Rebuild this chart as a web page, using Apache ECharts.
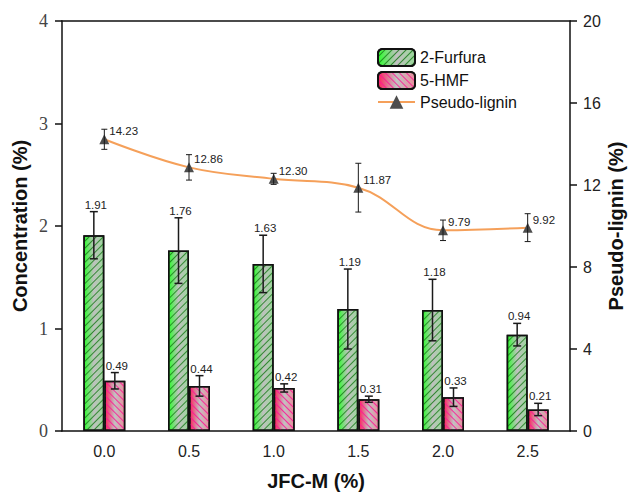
<!DOCTYPE html>
<html>
<head>
<meta charset="utf-8">
<script src="https://cdn.jsdelivr.net/npm/echarts@6/dist/echarts.min.js"></script>
<style>
html,body{margin:0;padding:0;background:#fff;}
#chart{width:629px;height:493px;}
</style>
</head>
<body>
<div id="chart"></div>
<script>
const categories = ['0.0', '0.5', '1.0', '1.5', '2.0', '2.5'];
const furfural = [1.91, 1.76, 1.63, 1.19, 1.18, 0.94];
const furfuralErr = [0.23, 0.32, 0.28, 0.39, 0.30, 0.11];
const hmf = [0.49, 0.44, 0.42, 0.31, 0.33, 0.21];
const hmfErr = [0.08, 0.10, 0.04, 0.03, 0.09, 0.06];
const lignin = [14.23, 12.86, 12.30, 11.87, 9.79, 9.92];
const ligninErr = [0.49, 0.62, 0.27, 1.19, 0.50, 0.68];
const leftTicks = [0, 1, 2, 3, 4];
const rightTicks = [0, 4, 8, 12, 16, 20];

const SANS = 'Liberation Sans, Arial, sans-serif';
const SERIF = 'Liberation Serif, Times New Roman, serif';
const BAR_W = 21;

const chart = echarts.init(document.getElementById('chart'), null, {renderer: 'svg'});

function errorRenderer(offset, capHalf, lineW, withLabel) {
  return function (params, api) {
    const i = api.value(0), v = api.value(1), e = api.value(2);
    const top = api.coord([i, v + e]);
    const bot = api.coord([i, v - e]);
    const x = top[0] + offset;
    const style = {stroke: '#1a1a1a', lineWidth: lineW};
    const children = [
      {type: 'line', shape: {x1: x, y1: top[1], x2: x, y2: bot[1]}, style: style},
      {type: 'line', shape: {x1: x - capHalf, y1: top[1], x2: x + capHalf, y2: top[1]}, style: style},
      {type: 'line', shape: {x1: x - capHalf, y1: bot[1], x2: x + capHalf, y2: bot[1]}, style: style}
    ];
    if (withLabel) {
      children.push({
        type: 'text',
        style: {
          text: v.toFixed(2), x: x + 2, y: top[1] - 1,
          align: 'center', verticalAlign: 'bottom',
          fontSize: 11.5, fontFamily: SANS, fill: '#222'
        }
      });
    }
    return {type: 'group', children: children};
  };
}

const greenFill = new echarts.graphic.LinearGradient(0, 0, 1, 0, [
  {offset: 0, color: '#2bff2b'},
  {offset: 0.5, color: '#c0c0c0'},
  {offset: 1, color: '#9ad89a'}
]);
const redFill = new echarts.graphic.LinearGradient(0, 0, 1, 0, [
  {offset: 0, color: '#ff1f5c'},
  {offset: 0.5, color: '#c2c2c2'},
  {offset: 1, color: '#ea8c9c'}
]);

const option = {
  backgroundColor: '#fff',
  animation: false,
  grid: {left: 62, right: 59, top: 21, bottom: 62, containLabel: false, outerBoundsMode: 'none'},
  legend: {
    orient: 'vertical', left: 372, top: 43,
    itemWidth: 37, itemHeight: 17, itemGap: 4,
    textStyle: {fontSize: 16, fontFamily: SANS, color: '#111'},
    data: ['2-Furfura', '5-HMF', 'Pseudo-lignin']
  },
  xAxis: [
    {
      type: 'category', data: categories, position: 'bottom',
      name: 'JFC-M (%)', nameLocation: 'middle', nameGap: 40, nameMoveOverlap: false,
      nameTextStyle: {fontSize: 20, fontWeight: 'bold', fontFamily: SANS, color: '#111'},
      axisLine: {lineStyle: {color: '#111', width: 1.5}},
      axisTick: {alignWithLabel: true, length: 7, lineStyle: {color: '#111', width: 1.5}},
      axisLabel: {fontSize: 16, fontFamily: SANS, color: '#222', margin: 12}
    },
    {
      type: 'category', data: categories, position: 'bottom',
      axisLine: {show: false},
      axisTick: {alignWithLabel: false, length: 4, lineStyle: {color: '#111', width: 1.5}},
      axisLabel: {show: false}
    },
    {
      type: 'category', data: categories, position: 'top',
      axisLine: {lineStyle: {color: '#111', width: 1.5}},
      axisTick: {show: false}, axisLabel: {show: false}
    }
  ],
  yAxis: [
    {
      type: 'value', min: leftTicks[0], max: leftTicks[leftTicks.length - 1], interval: 1,
      position: 'left',
      name: 'Concentration (%)', nameLocation: 'middle', nameGap: 32, nameRotate: 90, nameMoveOverlap: false,
      nameTextStyle: {fontSize: 20, fontWeight: 'bold', fontFamily: SANS, color: '#111'},
      axisLine: {show: true, lineStyle: {color: '#111', width: 1.5}},
      axisTick: {show: true, length: 7, lineStyle: {color: '#111', width: 1.5}},
      axisLabel: {fontSize: 18, fontFamily: SERIF, color: '#444', margin: 14},
      splitLine: {show: false}
    },
    {
      type: 'value', min: rightTicks[0], max: rightTicks[rightTicks.length - 1], interval: 4,
      position: 'right',
      name: 'Pseudo-lignin (%)', nameLocation: 'middle', nameGap: 36, nameRotate: 90, nameMoveOverlap: false,
      nameTextStyle: {fontSize: 20, fontWeight: 'bold', fontFamily: SANS, color: '#111'},
      axisLine: {show: true, lineStyle: {color: '#111', width: 1.5}},
      axisTick: {show: true, length: 7, lineStyle: {color: '#111', width: 1.5}},
      axisLabel: {fontSize: 16, fontFamily: SANS, color: '#222', margin: 13},
      splitLine: {show: false}
    }
  ],
  series: [
    {
      name: '2-Furfura', type: 'bar', xAxisIndex: 0, yAxisIndex: 0,
      data: furfural, barWidth: BAR_W, barGap: '0%',
      itemStyle: {
        color: greenFill, borderColor: '#111', borderWidth: 1.5,
        decal: {symbol: 'rect', color: 'rgba(20,120,20,0.8)', dashArrayX: [1, 0], dashArrayY: [1, 3.4], rotation: -Math.PI / 4}
      },
      z: 2
    },
    {
      name: '5-HMF', type: 'bar', xAxisIndex: 0, yAxisIndex: 0,
      data: hmf, barWidth: BAR_W, barGap: '0%',
      itemStyle: {
        color: redFill, borderColor: '#111', borderWidth: 1.5,
        decal: {symbol: 'rect', color: 'rgba(255,20,150,0.85)', dashArrayX: [1, 0], dashArrayY: [1, 3.4], rotation: Math.PI / 4}
      },
      z: 2
    },
    {
      name: '2-Furfura err', type: 'custom', xAxisIndex: 0, yAxisIndex: 0,
      data: furfural.map((v, i) => [i, v, furfuralErr[i]]),
      encode: {x: 0, y: 1},
      renderItem: errorRenderer(-BAR_W / 2, 4, 1.5, true),
      z: 5, silent: true
    },
    {
      name: '5-HMF err', type: 'custom', xAxisIndex: 0, yAxisIndex: 0,
      data: hmf.map((v, i) => [i, v, hmfErr[i]]),
      encode: {x: 0, y: 1},
      renderItem: errorRenderer(BAR_W / 2, 4, 1.5, true),
      z: 5, silent: true
    },
    {
      name: 'Pseudo-lignin', type: 'line', xAxisIndex: 0, yAxisIndex: 1,
      data: lignin, smooth: 0.4,
      symbol: 'triangle', symbolSize: 10,
      lineStyle: {color: '#f5a05a', width: 2},
      itemStyle: {color: '#4d4d4d'},
      label: {show: true, position: 'right', offset: [-5, -8], fontSize: 11.5, fontFamily: SANS, color: '#222', formatter: p => p.value.toFixed(2)},
      z: 6
    },
    {
      name: 'Pseudo-lignin err', type: 'custom', xAxisIndex: 0, yAxisIndex: 1,
      data: lignin.map((v, i) => [i, v, ligninErr[i]]),
      encode: {x: 0, y: 1},
      renderItem: errorRenderer(0, 3, 1, false),
      z: 7, silent: true
    }
  ]
};
chart.setOption(option);
</script>
</body>
</html>
